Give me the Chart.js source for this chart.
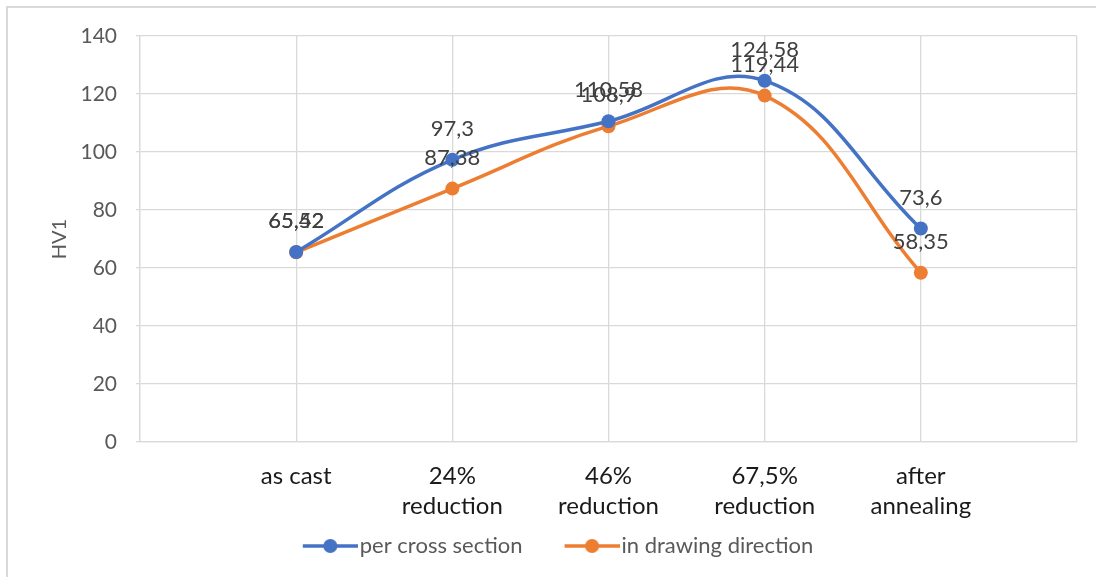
<!DOCTYPE html>
<html>
<head>
<meta charset="utf-8">
<script src="https://cdn.jsdelivr.net/npm/chart.js@4.4.1/dist/chart.umd.min.js"></script>
<style>
  html, body { margin: 0; padding: 0; background: #fff; }
  #wrap { position: relative; width: 1096px; height: 577px; overflow: hidden; }
  #frame { position: absolute; left: 6px; top: 6px; width: 1200px; height: 700px;
           border-left: 2px solid #d9d9d9; border-top: 2px solid #d9d9d9; pointer-events: none; }
  canvas { position: absolute; left: 0; top: 0; }
</style>
</head>
<body>
<div id="wrap">
  <canvas id="chart" width="1096" height="577"></canvas>
  <div id="frame"></div>
</div>
<script>
// categories on the x axis (blank slot at each end, like the original)
const categories = ['as cast', ['24%', 'reduction'], ['46%', 'reduction'], ['67,5%', 'reduction'], ['after', 'annealing']];
const perCrossSection = [65.52, 97.3, 110.58, 124.58, 73.6];
const inDrawingDirection = [65.42, 87.38, 108.9, 119.44, 58.35];
const yTicks = [0, 20, 40, 60, 80, 100, 120, 140];

const BLUE = '#4472C4';
const ORANGE = '#ED7D31';
const FONT = 'Lato, "Open Sans", sans-serif';

const labels = [''].concat(categories, ['']);
const pad = arr => [null].concat(arr, [null]);

// legend marker: line with a dot, with blank space on the left for the item gap
const ICON_W = 93;
function legendIcon(color) {
  const c = document.createElement('canvas');
  c.width = ICON_W; c.height = 16;
  const g = c.getContext('2d');
  g.strokeStyle = color; g.lineWidth = 3.5;
  g.beginPath(); g.moveTo(ICON_W - 55, 8); g.lineTo(ICON_W, 8); g.stroke();
  g.fillStyle = color;
  g.beginPath(); g.arc(ICON_W - 27.5, 8, 7, 0, Math.PI * 2); g.fill();
  return c;
}

// simple data labels above each point, decimal comma
const valueLabels = {
  id: 'valueLabels',
  afterDatasetsDraw(chart) {
    const ctx = chart.ctx;
    ctx.save();
    ctx.font = '22px ' + FONT;
    ctx.fillStyle = '#404040';
    ctx.textAlign = 'center';
    ctx.textBaseline = 'middle';
    chart.data.datasets.forEach((ds, i) => {
      chart.getDatasetMeta(i).data.forEach((pt, j) => {
        const v = ds.data[j];
        if (v == null) return;
        ctx.fillText(String(v).replace('.', ','), pt.x, pt.y - 31);
      });
    });
    ctx.restore();
  }
};

new Chart(document.getElementById('chart').getContext('2d'), {
  type: 'line',
  data: {
    labels: labels,
    datasets: [{
      label: 'per cross section',
      data: pad(perCrossSection),
      borderColor: BLUE,
      backgroundColor: BLUE,
      borderWidth: 3.5,
      pointRadius: 7,
      pointHoverRadius: 7,
      pointBorderWidth: 0,
      tension: 0.4,
      pointStyle: 'circle'
    }, {
      label: 'in drawing direction',
      data: pad(inDrawingDirection),
      borderColor: ORANGE,
      backgroundColor: ORANGE,
      borderWidth: 3.5,
      pointRadius: 7,
      pointHoverRadius: 7,
      pointBorderWidth: 0,
      tension: 0.4,
      pointStyle: 'circle'
    }]
  },
  options: {
    responsive: false,
    animation: false,
    layout: { padding: { top: 36, right: 9, left: 0, bottom: 10 } },
    scales: {
      x: {
        offset: false,
        grid: { color: '#d9d9d9', lineWidth: 1.3, drawTicks: false },
        border: { color: '#d9d9d9', width: 1.3 },
        ticks: {
          color: '#1a1a1a',
          font: { family: FONT, size: 24, lineHeight: 1.25 },
          padding: 19,
          maxRotation: 0,
          autoSkip: false
        },
        afterFit(scale) { scale.height = 80; }
      },
      y: {
        min: 0,
        max: 140,
        afterBuildTicks(scale) { scale.ticks = yTicks.map(v => ({ value: v })); },
        grid: { color: '#d9d9d9', lineWidth: 1.3, tickLength: 4 },
        border: { color: '#d9d9d9', width: 1.3 },
        ticks: { color: '#595959', font: { family: FONT, size: 21 }, padding: 19 },
        title: { display: true, text: 'HV1', color: '#595959', font: { family: FONT, size: 20 }, padding: { top: 48, bottom: 0 } },
        afterFit(scale) { scale.width = 140; }
      }
    },
    plugins: {
      tooltip: { enabled: false },
      legend: {
        position: 'bottom',
        labels: {
          color: '#595959',
          font: { family: FONT, size: 22, lineHeight: 1 },
          usePointStyle: true,
          pointStyleWidth: ICON_W - 18,
          padding: 13,
          generateLabels(chart) {
            return chart.data.datasets.map((ds, i) => ({
              text: ds.label,
              fontColor: '#595959',
              pointStyle: legendIcon(ds.borderColor),
              datasetIndex: i,
              lineWidth: 0,
              hidden: false
            }));
          }
        }
      }
    }
  },
  plugins: [valueLabels]
});
</script>
</body>
</html>
